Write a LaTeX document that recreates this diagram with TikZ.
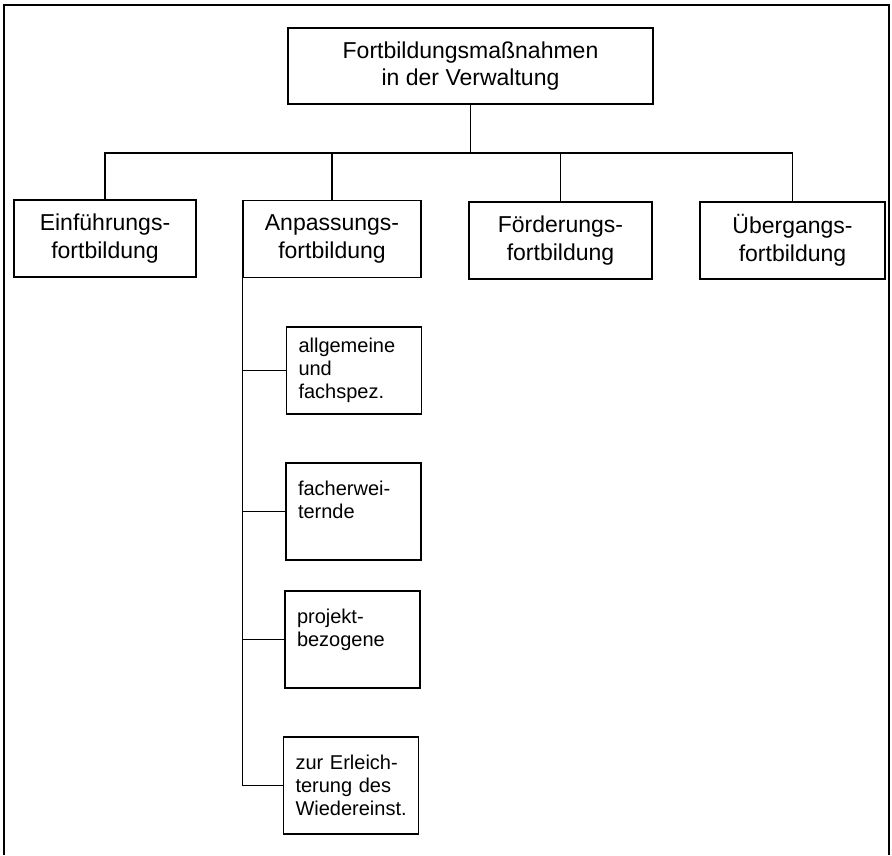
\documentclass[tikz,border=0pt]{standalone}
\usepackage{fontspec}
\setmainfont{Liberation Sans}
\usetikzlibrary{positioning}
\begin{document}
\begin{tikzpicture}[x=1pt,y=-1pt]

% definitions
\tikzstyle{frame} = [line width=1.4pt]

\tikzstyle{main} = [rectangle, minimum width=182pt, minimum height=77pt, inner sep=0pt, align=center, draw=black, line width=1.3pt, font=\fontsize{23}{27.5}\selectfont]

\tikzstyle{sub} = [rectangle, text width=111pt, inner xsep=12pt, inner ysep=0pt, minimum height=97pt, align=left, draw=black, line width=1.3pt, font=\fontsize{20}{23}\selectfont]

\tikzstyle{line} = [line width=1.3pt]

\useasboundingbox (0,0) rectangle (892,855);
\draw [frame] (4,855) -- (4,5) -- (889,5) -- (889,855);

% the chart
\node (top) [main, minimum width=365pt, minimum height=76pt] at (470.5,66) {Fortbildungsmaßnahmen\\in der Verwaltung};

\node (ein) [main] at (105,238.5) {Einführungs-\\fortbildung};

\node (anp) [main, minimum width=178pt] at (332,239) {Anpassungs-\\fortbildung};

\node (foe) [main, minimum width=183pt] at (560.5,240.5) {Förderungs-\\fortbildung};

\node (ueb) [main, minimum width=185pt] at (792.5,240.5) {Übergangs-\\fortbildung};

\node (s1) [sub, minimum height=87pt] at (354,370.5) {allgemeine\\und\\fachspez.};

\node (s2) [sub] at (353.5,511.5) {facherwei-\\ternde\\\mbox{}};

\node (s3) [sub] at (352.5,639.5) {projekt-\\bezogene\\\mbox{}};

\node (s4) [sub] at (351,785.5) {zur Erleich-\\terung des\\Wiedereinst.};

\coordinate (bus) at (470.5,153);

\draw [line] (top.south) -- (bus);
\draw [line] (ein.north) |- (bus) -| (ueb.north);
\draw [line] (anp.north) -- (anp.north |- bus);
\draw [line] (foe.north) -- (foe.north |- bus);

\draw [line] (anp.south west) |- (s4.west);
\draw [line] (anp.south west |- s1.west) -- (s1.west);
\draw [line] (anp.south west |- s2.west) -- (s2.west);
\draw [line] (anp.south west |- s3.west) -- (s3.west);

\end{tikzpicture}
\end{document}
